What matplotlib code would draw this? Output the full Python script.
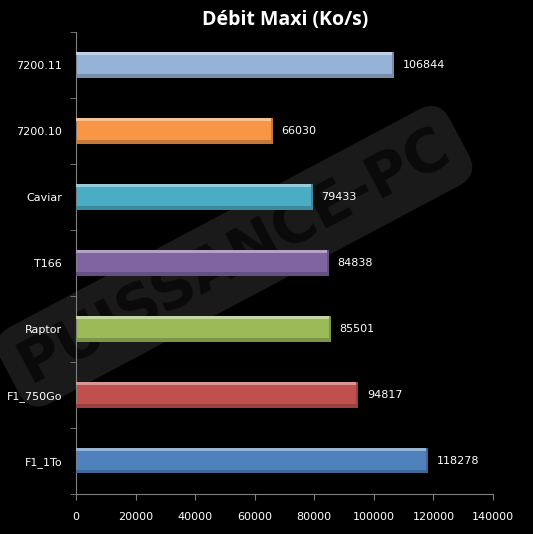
import matplotlib
matplotlib.use('Agg')
import matplotlib.pyplot as plt
import numpy as np
from matplotlib.colors import to_rgb

# data, top to bottom as in the picture
labels = ['7200.11', '7200.10', 'Caviar', 'T166', 'Raptor', 'F1_750Go', 'F1_1To']
values = [106844, 66030, 79433, 84838, 85501, 94817, 118278]
colors = ['#95B3D7', '#F79646', '#4BACC6', '#8064A2', '#9BBB59', '#C0504D', '#4F81BD']
xticks = [0, 20000, 40000, 60000, 80000, 100000, 120000, 140000]


def shade(c, f):
    r = np.array(to_rgb(c))
    if f > 0:
        return tuple(r + (1 - r) * f)
    return tuple(r * (1 + f))


fig = plt.figure(figsize=(5.33, 5.34), dpi=100)
fig.patch.set_facecolor('black')
ax = fig.add_axes([0.1426, 0.075, 0.7824, 0.865])
ax.set_facecolor('none')

# watermark behind the bars
ax.text(0.44, 0.52, 'PUISSANCE-PC', rotation=28, ha='center', va='center',
        fontsize=42, fontweight='bold', color='#0a0a0a', family='DejaVu Sans',
        bbox=dict(boxstyle='round,pad=0.25,rounding_size=0.4', fc='#1a1a1a', ec='none'),
        transform=fig.transFigure, zorder=0, clip_on=False)

y = np.arange(len(labels))
h = 0.38
ax.barh(y, values, height=h, color=colors, edgecolor='none', zorder=2)
# bevel: light strip on top, darker strip at bottom
for yi, v, c in zip(y, values, colors):
    ax.barh(yi - h / 2 + 0.02, v, height=0.04, color=shade(c, 0.4), edgecolor='none', zorder=3)
    ax.barh(yi + h / 2 - 0.025, v, height=0.05, color=shade(c, -0.2), edgecolor='none', zorder=3)
    ax.barh(yi, v * 0.004 + 300, left=v - (v * 0.004 + 300), height=h, color=shade(c, -0.2),
            edgecolor='none', zorder=4)
    ax.text(v + 2800, yi, str(v), color='white', va='center', ha='left', fontsize=8)

ax.set_ylim(len(labels) - 0.5, -0.5)
ax.set_xlim(0, 140000)
ax.set_xticks(xticks)
ax.set_xticklabels([str(t) for t in xticks], color='white', fontsize=8)
ax.set_yticks(y)
ax.set_yticklabels(labels, color='white', fontsize=8)
ax.set_yticks(np.arange(len(labels) + 1) - 0.5, minor=True)
ax.tick_params(axis='y', which='major', length=0, pad=10)
ax.tick_params(axis='y', which='minor', length=4, color='#808080')
ax.tick_params(axis='x', length=4, color='#808080', pad=9)

for s in ['top', 'right']:
    ax.spines[s].set_visible(False)
for s in ['left', 'bottom']:
    ax.spines[s].set_color('#808080')

fig.text(0.535, 0.962, 'Débit Maxi (Ko/s)', color='white', ha='center', va='center',
         fontsize=14, fontweight='bold', family='Open Sans')

fig.savefig('out.png', dpi=100, facecolor='black')
